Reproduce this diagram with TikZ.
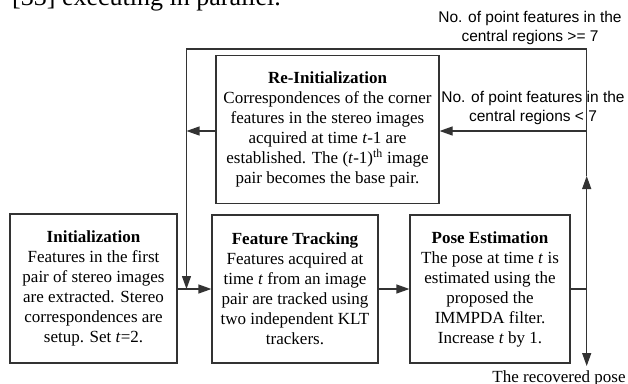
\documentclass[tikz,border=0pt]{standalone}
\usepackage{fontspec}
\setmainfont{Liberation Serif}
\newfontfamily\labelfont{Liberation Sans}
\usetikzlibrary{arrows.meta}
\begin{document}
\begin{tikzpicture}[x=1pt,y=1pt,
  ln/.style={draw=black!80,line width=1.2pt},
  arr/.style={ln,-{Triangle[length=13pt,width=9pt]}},
  box/.style={ln,rectangle,inner sep=0pt,align=center,
    font=\fontsize{17}{20}\selectfont},
  lbl/.style={inner sep=0pt,align=center,font=\labelfont\fontsize{15.5}{19}\selectfont}]
\useasboundingbox (0,0) rectangle (628,-383);
\begin{scope}
\clip (0,0) rectangle (628,-383);
\node[anchor=base west,inner sep=0pt,font=\fontsize{26}{30}\selectfont] (top) at (12,-5) {[33] executing in parallel.};
\node[anchor=base,inner sep=0pt,font=\fontsize{17}{20}\selectfont] (rp) at (559,-382.5) {The recovered pose};
\end{scope}
% boxes
\node[box,minimum width=167pt,minimum height=149pt] (init) at (93.5,-288.5)
  {\textbf{Initialization}\\Features in the first\\pair of stereo images\\are extracted. Stereo\\correspondences are\\setup. Set \textit{t}=2.};
\node[box,minimum width=166pt,minimum height=148pt] (ft) at (295,-289)
  {\textbf{Feature Tracking}\\Features acquired at\\time \textit{t} from an image\\pair are tracked using\\two independent KLT\\trackers.};
\node[box,minimum width=160pt,minimum height=148pt] (pe) at (490,-289)
  {\textbf{Pose Estimation}\\The pose at time \textit{t} is\\estimated using the\\proposed the\\IMMPDA filter.\\Increase \textit{t} by 1.};
\node[box,minimum width=223pt,minimum height=148pt] (re) at (327.5,-129.5)
  {\textbf{Re-Initialization}\\Correspondences of the corner\\features in the stereo images\\acquired at time \textit{t}-1 are\\established. The (\textit{t}-1)\textsuperscript{th} image\\pair becomes the base pair.};
% coordinates
\coordinate (J) at (586.7,-289);
\coordinate (out) at (586.7,-366);
\coordinate (up) at (586.7,-176);
\coordinate (tr) at (586.7,-49);
\coordinate (jl) at (186.5,-289);
\coordinate (rr) at (586.7,-131);
\coordinate (ll) at (186.5,-131);
% connectors
\draw[arr] (init.east |- jl) -- (ft.west |- jl);
\draw[arr] (ft.east |- J) -- (pe.west |- J);
\draw[ln] (pe.east |- J) -- (J);
\draw[arr] (J) -- (out);
\draw[arr] (J) -- (up);
\draw[arr] (up) -- (tr) -| (jl);
\draw[arr] (rr) -- (re.east |- rr);
\draw[arr] (re.west |- ll) -- (ll);
% labels
\node[lbl] (l1) at (530,-28) {No. of point features in the\\central regions >= 7};
\node[lbl] (l2) at (533,-107.5) {No. of point features in the\\central regions < 7};
\end{tikzpicture}
\end{document}
